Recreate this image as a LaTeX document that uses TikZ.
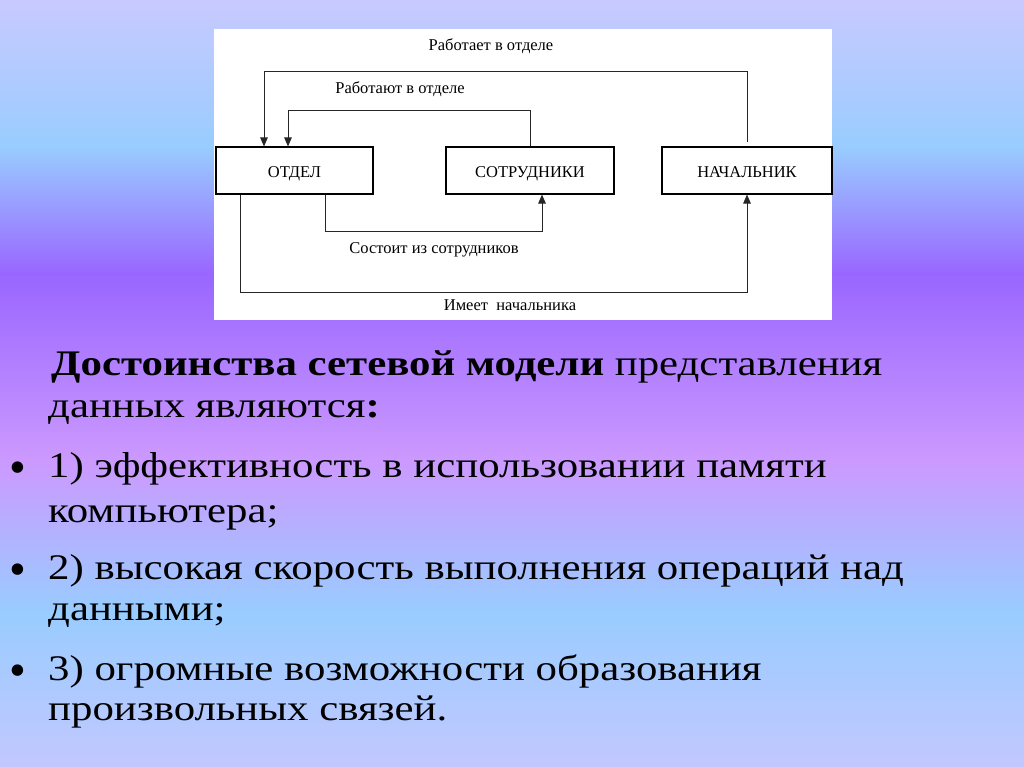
\documentclass[tikz,border=0pt]{standalone}
\usepackage{fontspec}
\setmainfont{Liberation Serif}
\newfontfamily\slidefont[FakeStretch=1.19]{Liberation Serif}
\usepackage{xcolor}
\usepackage{tikz}
\usetikzlibrary{arrows.meta}
\definecolor{lavtop}{HTML}{C8CAFF}
\definecolor{skyband}{HTML}{99CCFF}
\definecolor{violetband}{HTML}{9966FF}
\definecolor{lilacband}{HTML}{CC99FF}
\definecolor{lavbottom}{HTML}{C2C8FF}

\begin{document}
\begin{tikzpicture}[x=1pt,y=-1pt,
    entity/.style={draw=black,line width=1.1pt,fill=white,minimum height=47pt,inner sep=0pt,
        text height=14pt,text depth=0pt,font=\fontsize{16.5}{18}\selectfont},
    link/.style={draw=black!85,line width=0.9pt},
    tip/.style={-{Triangle[length=9pt,width=7.5pt]}},
    rel/.style={font=\fontsize{16.5}{18}\selectfont,inner sep=0pt},
    body/.style={anchor=base west,inner sep=0pt,font=\slidefont\fontsize{36}{42}\selectfont},
    bullet/.style={anchor=base west,inner sep=0pt,font=\fontsize{48}{50}\selectfont}]
            \useasboundingbox (0,0) rectangle (1024,767);

            %%% BACKGROUND %%%
            \shade[top color=lavtop,bottom color=skyband] (0,0) rectangle (1024,147.5);
            \shade[top color=skyband,bottom color=violetband] (0,147) rectangle (1024,274.5);
            \shade[top color=violetband,bottom color=lilacband] (0,274) rectangle (1024,460.5);
            \shade[top color=lilacband,bottom color=skyband] (0,460) rectangle (1024,611.5);
            \shade[top color=skyband,bottom color=lavbottom] (0,611) rectangle (1024,767);

            %%% PANEL %%%
            \fill[white] (214,29) rectangle (832,320);

            %%% ENTITIES %%%
            \node[entity,minimum width=157pt] (otdel) at (294.5,170.5) {ОТДЕЛ};
            \node[entity,minimum width=168pt] (sotr) at (530,170.5) {СОТРУДНИКИ};
            \node[entity,minimum width=170pt] (nach) at (747,170.5) {НАЧАЛЬНИК};

            %%% LEVELS %%%
            \coordinate (upper) at (0,71);
            \coordinate (inner) at (0,110);
            \coordinate (lower) at (0,231);
            \coordinate (outer) at (0,292);

            %%% LINKS %%%
            \draw[link,tip] ([yshift=4pt]nach.north) -- (nach.north |- upper) -| ([xshift=-30.5pt]otdel.north);
            \draw[link,tip] (sotr.north) -- (sotr.north |- inner) -| ([xshift=-6.5pt]otdel.north);
            \draw[link,tip] ([xshift=30.5pt]otdel.south) -- ([xshift=30.5pt]otdel.south |- lower) -| ([xshift=12pt]sotr.south);
            \draw[link,tip] ([xshift=-54.5pt]otdel.south) -- ([xshift=-54.5pt]otdel.south |- outer) -| (nach.south);

            %%% LABELS %%%
            \node[rel] (worksin) at (491,46) {Работает в отделе};
            \node[rel] (workin) at (400,89) {Работают в отделе};
            \node[rel] (consists) at (434,250) {Состоит из сотрудников};
            \node[rel] (hashead) at (510,305) {Имеет\ \ начальника};

            %%% TEXT %%%
            \node[body] (head1) at (51,375) {\textbf{Достоинства сетевой модели} представления};
            \node[body] (head2) at (48,417) {данных являются\textbf{:}};
            \node[bullet] (dot1) at (9,483) {•};
            \node[body] (item1a) at (48,477) {1) эффективность в использовании памяти};
            \node[body] (item1b) at (48,522) {компьютера;};
            \node[bullet] (dot2) at (9,585) {•};
            \node[body] (item2a) at (48,579) {2) высокая скорость выполнения операций над};
            \node[body] (item2b) at (48,620) {данными;};
            \node[bullet] (dot3) at (9,686) {•};
            \node[body] (item3a) at (48,680) {3) огромные возможности образования};
            \node[body] (item3b) at (48,720) {произвольных связей.};
        \end{tikzpicture}
\end{document}
